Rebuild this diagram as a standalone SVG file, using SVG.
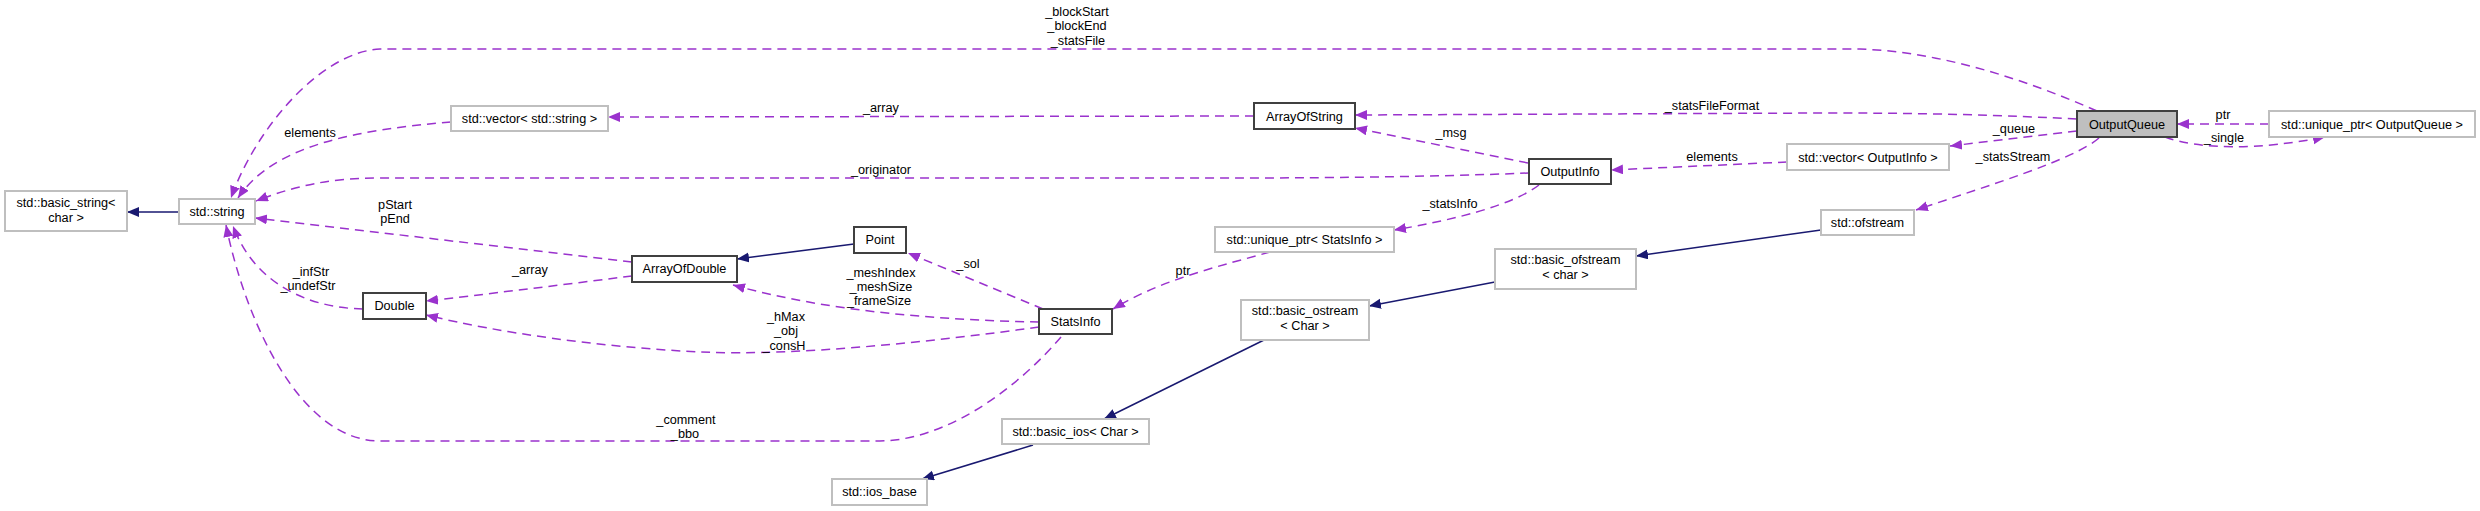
<svg xmlns="http://www.w3.org/2000/svg" width="2480" height="511" viewBox="0 0 2480 511">
<style>
text{font-family:"Liberation Sans",Arial,sans-serif;font-size:13.5px;fill:#000;text-anchor:middle;transform-box:fill-box;transform-origin:50% 50%;transform:scaleX(0.94)}
.doc{fill:#fff;stroke:#404040;stroke-width:2}
.ext{fill:#fff;stroke:#bfbfbf;stroke-width:2}
.cur{fill:#bfbfbf;stroke:#404040;stroke-width:2}
.use{fill:none;stroke:#9a32cd;stroke-width:1.5;stroke-dasharray:9,6;marker-end:url(#pa)}
.inh{fill:none;stroke:#191970;stroke-width:1.5;marker-end:url(#na)}
</style>
<defs>
<marker id="pa" markerUnits="userSpaceOnUse" markerWidth="13" markerHeight="11" refX="12" refY="5" orient="auto"><path d="M0,0L12,5L0,10z" fill="#9a32cd"/></marker>
<marker id="na" markerUnits="userSpaceOnUse" markerWidth="13" markerHeight="11" refX="12" refY="5" orient="auto"><path d="M0,0L12,5L0,10z" fill="#191970"/></marker>
</defs>
<rect width="2480" height="511" fill="#fff"/>
<g id="connectors">
<path class="use" d="M2097,111C2026,80 1943,52 1860,49L380,49C320,52 255,130 231,198"/>
<path class="use" d="M1254,116L608,117"/>
<path class="use" d="M451,122C356,130 273,145 238,198"/>
<path class="use" d="M1529,173C1430,177 1311,178 1240,178L380,178C332,178 297,185 256,201"/>
<path class="use" d="M632,262L255,218"/>
<path class="use" d="M632,276C560,285 480,295 426,301"/>
<path class="use" d="M1039,327C930,342 800,356 700,352C600,347 500,333 426,315"/>
<path class="use" d="M1039,322C940,320 830,312 733,285"/>
<path class="use" d="M1043,309L908,253"/>
<path class="use" d="M1270,252C1220,266 1160,280 1113,309"/>
<path class="use" d="M1061,337C1020,385 950,440 880,441L380,441C300,441 245,320 226,225"/>
<path class="use" d="M363,309C310,308 255,285 233,226"/>
<path class="use" d="M2077,119C1979,114 1907,113 1824,113L1355,115"/>
<path class="use" d="M1528,163L1355,128"/>
<path class="use" d="M1787,162L1611,170"/>
<path class="use" d="M1539,185C1513,205 1454,220 1394,230"/>
<path class="use" d="M2077,131L1950,146"/>
<path class="use" d="M2099,138C2073,160 1990,185 1916,210"/>
<path class="use" d="M2269,124L2177,124"/>
<path class="use" d="M2165,137C2200,150 2260,150 2325,137"/>
<path class="inh" d="M179,212L127,212"/>
<path class="inh" d="M854,244L737,259"/>
<path class="inh" d="M1821,230L1636,256"/>
<path class="inh" d="M1495,282L1369,306"/>
<path class="inh" d="M1264,340L1104,419"/>
<path class="inh" d="M1033,445L922,479"/>
<text x="1077" y="16">_blockStart</text>
<text x="1077" y="30.5">_blockEnd</text>
<text x="1078" y="45">_statsFile</text>
<text x="881" y="112">_array</text>
<text x="881" y="174">_originator</text>
<text x="310" y="137">elements</text>
<text x="395" y="209">pStart</text>
<text x="395" y="223">pEnd</text>
<text x="311" y="276">_infStr</text>
<text x="308" y="290">_undefStr</text>
<text x="530" y="274">_array</text>
<text x="881" y="277">_meshIndex</text>
<text x="881" y="291">_meshSize</text>
<text x="879" y="305">_frameSize</text>
<text x="968" y="268">_sol</text>
<text x="1183" y="275">ptr</text>
<text x="786" y="321">_hMax</text>
<text x="786" y="335">_obj</text>
<text x="784" y="350">_consH</text>
<text x="686" y="424">_comment</text>
<text x="685" y="438">_bbo</text>
<text x="1712" y="110">_statsFileFormat</text>
<text x="1451" y="137">_msg</text>
<text x="1712" y="161">elements</text>
<text x="1450" y="208">_statsInfo</text>
<text x="2014" y="133">_queue</text>
<text x="2013" y="161">_statsStream</text>
<text x="2223" y="119">ptr</text>
<text x="2224" y="142">_single</text>
</g>
<g id="n-basic_string"><rect class="ext" x="5" y="191" width="122" height="40"/><text x="66" y="207">std::basic_string&lt;</text><text x="66" y="222.5">char &gt;</text></g>
<g id="n-string"><rect class="ext" x="179" y="199" width="76" height="25"/><text x="217" y="216">std::string</text></g>
<g id="n-vector_string"><rect class="ext" x="451" y="106" width="157" height="25"/><text x="529.5" y="123">std::vector&lt; std::string &gt;</text></g>
<g id="n-ArrayOfString"><rect class="doc" x="1254" y="103" width="101" height="26"/><text x="1304.5" y="121">ArrayOfString</text></g>
<g id="n-OutputQueue"><rect class="cur" x="2077" y="111" width="100" height="26"/><text x="2127" y="129">OutputQueue</text></g>
<g id="n-unique_ptr_OutputQueue"><rect class="ext" x="2269" y="111" width="206" height="26"/><text x="2372" y="129">std::unique_ptr&lt; OutputQueue &gt;</text></g>
<g id="n-vector_OutputInfo"><rect class="ext" x="1787" y="144" width="162" height="26"/><text x="1868" y="162">std::vector&lt; OutputInfo &gt;</text></g>
<g id="n-OutputInfo"><rect class="doc" x="1529" y="159" width="82" height="25"/><text x="1570" y="176">OutputInfo</text></g>
<g id="n-unique_ptr_StatsInfo"><rect class="ext" x="1215" y="227" width="179" height="25"/><text x="1304.5" y="244">std::unique_ptr&lt; StatsInfo &gt;</text></g>
<g id="n-ofstream"><rect class="ext" x="1821" y="210" width="93" height="25"/><text x="1867.5" y="227">std::ofstream</text></g>
<g id="n-basic_ofstream"><rect class="ext" x="1495" y="249" width="141" height="40"/><text x="1565.5" y="264">std::basic_ofstream</text><text x="1565.5" y="279">&lt; char &gt;</text></g>
<g id="n-basic_ostream"><rect class="ext" x="1241" y="300" width="128" height="40"/><text x="1305" y="315">std::basic_ostream</text><text x="1305" y="330">&lt; Char &gt;</text></g>
<g id="n-basic_ios"><rect class="ext" x="1002" y="419" width="147" height="25"/><text x="1075.5" y="436">std::basic_ios&lt; Char &gt;</text></g>
<g id="n-ios_base"><rect class="ext" x="832" y="479" width="95" height="26"/><text x="879.5" y="496">std::ios_base</text></g>
<g id="n-Point"><rect class="doc" x="854" y="227" width="52" height="26"/><text x="880" y="244">Point</text></g>
<g id="n-ArrayOfDouble"><rect class="doc" x="632" y="256" width="105" height="26"/><text x="684.5" y="273">ArrayOfDouble</text></g>
<g id="n-Double"><rect class="doc" x="363" y="293" width="63" height="26"/><text x="394.5" y="310">Double</text></g>
<g id="n-StatsInfo"><rect class="doc" x="1039" y="309" width="73" height="25"/><text x="1075.5" y="326">StatsInfo</text></g>
</svg>
